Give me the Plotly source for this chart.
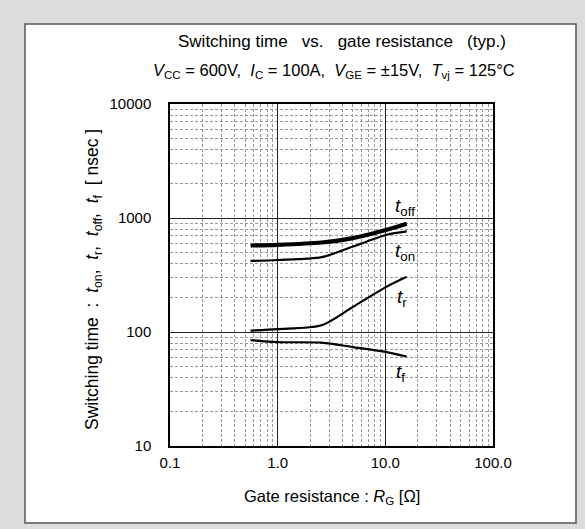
import plotly.graph_objects as go

# Gate resistance RG [ohm]
rg = [0.56, 1.0, 2.56, 5.0, 10.3, 15.8]
# switching times [nsec]
t_off = [574, 582, 610, 666, 789, 891]
t_on = [420, 428, 453, 562, 713, 763]
t_r = [103, 106, 114.5, 166, 250, 305]
t_f = [85, 81.6, 80.6, 73.8, 66.7, 61]

x_ticks = [0.1, 1, 10, 100]
x_ticktext = ["0.1", "1.0", "10.0", "100.0"]
y_ticks = [10, 100, 1000, 10000]
y_ticktext = ["10", "100", "1000", "10000"]

FONT = "Liberation Sans, Arial, sans-serif"

def minors(lo, hi):
    vals = []
    d = lo
    while d < hi:
        for k in range(2, 10):
            vals.append(k * d)
        d *= 10
    return vals

fig = go.Figure()
series = [
    ("t_off", t_off, 4.2),
    ("t_on", t_on, 2.2),
    ("t_r", t_r, 2.2),
    ("t_f", t_f, 2.2),
]
for name, ys, w in series:
    fig.add_trace(go.Scatter(x=rg, y=ys, mode="lines", name=name,
                             line=dict(color="black", width=w, shape="spline", smoothing=0.8),
                             showlegend=False, hoverinfo="skip"))

W, H = 585, 529
L, R, T, B = 170, 493, 104, 446
pw, ph = R - L, B - T

def px(xp):
    return (xp - L) / pw

def py(yp):
    return (B - yp) / ph

axis_common = dict(type="log", showline=True, linecolor="black", linewidth=1.5, mirror=True,
                   showgrid=True, gridcolor="#222222", gridwidth=1, zeroline=False,
                   ticks="", tickfont=dict(family=FONT, size=15, color="black"))

minor_style = dict(showgrid=True, gridcolor="#999999", griddash="3px,2px", gridwidth=1, ticks="")

fig.update_xaxes(range=[-1, 2], tickvals=x_ticks, ticktext=x_ticktext,
                 ticklabelstandoff=2,
                 minor=dict(tickvals=minors(0.1, 100), **minor_style),
                 **axis_common)
fig.update_yaxes(range=[1, 4], tickvals=y_ticks, ticktext=y_ticktext,
                 ticklabelstandoff=14,
                 minor=dict(tickvals=minors(10, 10000), **minor_style),
                 **axis_common)

ann = []
def lab(text, x, y, size, xa="center", xref="paper", yref="paper", angle=0):
    ann.append(dict(text=text, x=x, y=y, xref=xref, yref=yref, showarrow=False,
                    xanchor=xa, yanchor="middle", textangle=angle,
                    font=dict(family=FONT, size=size, color="black")))

nb = "\u00a0"
s2 = " " + nb
s3 = " " + nb + nb
lab(f"Switching time{s3}vs.{s3}gate resistance{s3}(typ.)", px(342), py(41), 17)
lab(f"<i>V</i><sub>CC</sub> = 600V,{s2}<i>I</i><sub>C</sub> = 100A,{s2}<i>V</i><sub>GE</sub> = ±15V,{s2}<i>T</i><sub>vj</sub> = 125°C",
    px(334), py(71), 16.5)
lab("Gate resistance : <i>R</i><sub>G</sub> [Ω]", px(332), py(497), 16.5)
lab(f"Switching time{s2}:{s2}<i>t</i><sub>on</sub>,{s2}<i>t</i><sub>r</sub>,{s2}<i>t</i><sub>off</sub>,{s2}<i>t</i><sub>f</sub>{s2}[ nsec ]",
    px(93), py(280), 17.5, angle=-90)

# curve labels
lab("<i>t</i><sub>off</sub>", px(405), py(207), 19)
lab("<i>t</i><sub>on</sub>", px(405), py(252), 19)
lab("<i>t</i><sub>r</sub>", px(402), py(298), 19)
lab("<i>t</i><sub>f</sub>", px(400), py(373), 19)

shapes = [
    dict(type="rect", xref="paper", yref="paper", x0=px(25), x1=px(576), y0=py(523), y1=py(24),
         fillcolor="white", line=dict(color="#555555", width=1.5), layer="below"),
]

fig.update_layout(width=W, height=H, margin=dict(l=L, r=W - R, t=T, b=H - B),
                  paper_bgcolor="#dcdcdc", plot_bgcolor="white",
                  annotations=ann, shapes=shapes, font=dict(family=FONT))

fig.write_html("out.html")
